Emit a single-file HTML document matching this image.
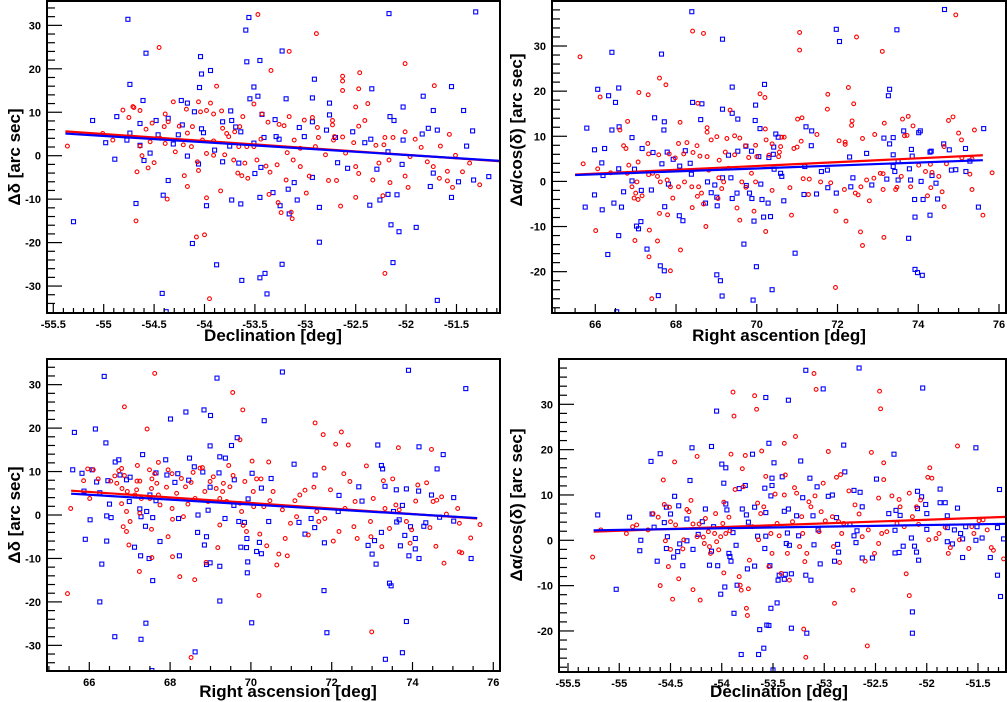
<!DOCTYPE html>
<html><head><meta charset="utf-8">
<style>
html,body{margin:0;padding:0;background:#fff;}
svg{display:block;font-family:"Liberation Sans",Arial,sans-serif;}
.tl{font-size:11px;font-weight:bold;fill:#000;}
.at{font-size:17px;font-weight:bold;fill:#000;}
</style></head>
<body>
<svg id="chart" width="1007" height="702" viewBox="0 0 1007 702" xmlns="http://www.w3.org/2000/svg"></svg>
<script>
// ---- Data ----
const tlRed=[[-55.36,2.2],[-54.45,24.9],[-53.47,32.5],[-52.89,28.1],[-53.16,24.0],[-53.34,19.6],[-53.88,16.0],[-52.01,21.2],[-52.63,18.3],[-52.63,17.2],[-52.63,15.0],[-52.46,19.1],[-52.47,15.4],[-51.72,16.1],[-52.38,12.0],[-52.50,11.2],[-54.68,-15.0],[-54.08,-18.7],[-54.00,-18.2],[-53.95,-32.9],[-52.21,-27.1],[-52.65,-11.6],[-52.50,-9.6],[-53.14,-13.0],[-53.13,-14.5],[-53.27,-10.8],[-53.24,-13.1],[-53.36,-8.9],[-54.37,-10.0],[-53.98,-9.7],[-53.84,-8.1],[-54.20,-4.6],[-54.17,-7.1],[-54.67,-3.7],[-54.56,-2.8],[-54.50,-1.6],[-54.62,0.0],[-54.06,-3.4],[-54.07,-1.4],[-53.91,0.1],[-53.67,-4.0],[-53.63,-4.6],[-53.57,-5.2],[-53.35,-3.8],[-53.19,-5.6],[-52.99,-8.6],[-52.96,-4.7],[-52.77,-5.7],[-52.69,-5.7],[-52.50,-2.5],[-52.47,-4.1],[-52.33,-5.6],[-52.23,-9.2],[-52.16,-6.2],[-51.98,-7.3],[-52.01,-4.7],[-51.67,-5.2],[-51.59,-5.8],[-51.54,-7.3],[-51.59,-3.6],[-51.44,-3.7],[-51.27,-6.7],[-51.37,-1.7],[-51.51,0.1],[-51.66,2.2],[-51.57,4.9],[-51.85,1.9],[-51.91,3.8],[-52.01,5.5],[-52.13,4.2],[-52.21,4.2],[-52.30,2.4],[-52.22,2.5],[-52.17,-1.0],[-52.27,-1.7],[-52.41,8.1],[-52.47,6.8],[-52.73,8.1],[-52.73,7.1],[-52.71,4.4],[-52.63,4.3],[-52.52,3.0],[-52.60,0.6],[-52.80,0.2],[-52.88,6.5],[-52.93,8.8],[-53.01,8.2],[-52.87,4.2],[-52.90,2.1],[-53.05,1.7],[-53.16,9.0],[-53.21,6.9],[-53.26,7.2],[-53.18,0.7],[-53.11,3.6],[-53.12,-1.0],[-53.05,-2.5],[-53.28,-2.1],[-53.39,-2.4],[-53.48,-1.0],[-53.51,2.1],[-53.44,3.8],[-53.37,7.7],[-53.43,9.6],[-53.51,11.9],[-53.62,9.0],[-53.65,6.7],[-53.70,5.5],[-53.78,5.1],[-53.83,10.3],[-53.91,9.6],[-53.98,10.4],[-54.04,10.1],[-54.06,12.4],[-53.94,12.1],[-54.18,10.7],[-54.31,12.4],[-54.39,9.6],[-54.36,7.8],[-54.25,6.8],[-54.17,5.2],[-54.12,6.7],[-54.02,3.6],[-53.91,3.4],[-53.82,6.3],[-53.76,4.4],[-53.66,2.1],[-53.58,2.1],[-54.21,2.5],[-54.29,0.9],[-54.39,2.8],[-54.40,6.7],[-54.52,7.5],[-54.58,6.1],[-54.64,2.2],[-54.54,3.2],[-54.70,11.1],[-54.81,10.5],[-54.75,8.8],[-54.64,10.4],[-54.71,11.3],[-54.91,3.6],[-55.01,5.1],[-54.44,4.0],[-54.13,2.1],[-53.98,0.5],[-53.80,0.2],[-53.71,-1.0],[-53.60,-1.7],[-52.72,3.6],[-51.96,-0.2],[-51.79,-1.4],[-51.73,-2.5]];
const tlBlue=[[-54.76,31.4],[-54.58,23.6],[-54.04,22.8],[-53.59,28.9],[-53.56,31.8],[-53.58,21.6],[-53.45,21.9],[-53.23,24.1],[-52.17,32.7],[-51.31,33.1],[-54.74,16.4],[-54.03,18.8],[-53.94,19.6],[-54.05,15.7],[-53.51,15.8],[-52.91,17.6],[-52.34,15.4],[-51.55,15.9],[-51.83,13.7],[-55.11,8.1],[-54.87,9.0],[-54.61,12.7],[-54.23,12.7],[-54.17,12.1],[-54.10,10.1],[-53.74,10.3],[-53.55,13.1],[-53.47,13.7],[-53.19,13.1],[-52.93,13.3],[-52.76,12.1],[-52.76,9.4],[-52.03,11.2],[-51.73,10.4],[-51.43,10.4],[-52.16,9.0],[-52.12,8.1],[-51.78,6.3],[-51.69,5.9],[-51.34,5.7],[-51.84,5.0],[-52.53,5.5],[-54.98,3.0],[-54.89,-0.8],[-55.30,-15.2],[-54.68,-11.0],[-54.41,-9.1],[-54.36,-5.7],[-54.12,-20.2],[-53.88,-25.1],[-54.42,-31.7],[-54.38,-35.9],[-53.63,-28.7],[-53.45,-28.1],[-53.40,-27.1],[-53.38,-31.8],[-53.23,-25.0],[-52.86,-19.9],[-52.86,-11.9],[-53.98,-11.5],[-53.64,-11.1],[-53.73,-10.2],[-53.45,-9.6],[-53.25,-11.5],[-53.16,-13.4],[-53.08,-10.2],[-52.36,-11.4],[-52.26,-10.2],[-52.18,-8.9],[-52.09,-9.0],[-52.15,-15.9],[-52.07,-17.5],[-51.90,-16.5],[-52.13,-24.6],[-51.69,-33.3],[-51.55,-9.6],[-51.48,-6.0],[-51.33,-5.6],[-51.18,-4.8],[-51.76,-7.1],[-51.40,2.2],[-54.54,0.6],[-54.60,-1.1],[-54.17,-0.1],[-54.06,-1.9],[-53.82,-1.4],[-53.66,-1.7],[-53.50,-4.1],[-53.44,-2.7],[-53.32,-8.5],[-53.17,-7.7],[-53.11,-6.2],[-52.93,-5.0],[-52.68,-1.6],[-52.58,-2.9],[-52.29,-3.1],[-52.04,-2.0],[-51.73,-4.0],[-54.31,2.7],[-53.90,1.3],[-53.75,2.2],[-53.41,4.2],[-53.29,4.4],[-53.06,6.5],[-52.79,5.9],[-52.70,4.2],[-52.41,3.0],[-52.35,3.8],[-52.18,0.9],[-52.03,3.6],[-54.48,8.1],[-54.64,7.4],[-54.36,8.6],[-54.22,7.1],[-54.03,6.2],[-53.82,7.8],[-53.69,6.6],[-53.43,9.5],[-53.30,8.3],[-53.01,4.4],[-52.93,7.8],[-54.74,5.2],[-54.77,3.6],[-54.64,2.4],[-54.46,4.8],[-54.26,4.8],[-54.01,5.3],[-53.73,8.1],[-53.64,5.5],[-53.51,2.9],[-53.26,3.8]];
const tlRedFit=[[-55.38,5.6],[-51.06,-1.3]];
const tlBlueFit=[[-55.38,5.1],[-51.06,-1.2]];

const trRed=[[65.62,27.6],[65.70,3.9],[66.12,18.7],[67.08,19.7],[67.31,19.2],[67.59,22.9],[67.75,21.4],[68.41,33.3],[68.68,32.8],[71.06,33.0],[71.06,29.1],[72.47,32.0],[73.11,28.8],[74.93,36.9],[68.54,17.3],[69.34,15.8],[70.08,19.4],[70.20,18.6],[71.76,19.3],[71.75,16.0],[72.27,20.8],[72.40,17.2],[71.01,13.8],[71.12,14.1],[72.36,13.4],[72.35,12.4],[73.16,12.9],[73.61,13.8],[73.75,14.4],[73.87,12.3],[74.75,13.5],[74.86,14.3],[75.00,10.7],[75.39,11.4],[73.72,10.2],[73.66,10.1],[72.92,10.4],[72.62,9.5],[72.19,8.7],[72.19,8.2],[72.04,9.0],[71.49,10.4],[71.10,8.9],[71.00,7.6],[70.92,7.3],[70.21,11.6],[68.77,11.9],[68.77,10.9],[68.10,13.1],[66.80,13.3],[66.61,11.4],[66.70,7.9],[66.76,7.3],[67.30,8.4],[68.06,8.4],[68.27,8.6],[68.52,7.9],[68.87,9.2],[69.01,9.9],[69.26,9.5],[69.45,10.1],[69.58,9.6],[69.72,7.9],[69.97,8.0],[70.23,9.2],[70.38,8.3],[70.62,9.8],[70.68,9.8],[70.59,7.7],[70.56,6.5],[70.54,5.5],[70.30,5.8],[70.00,5.5],[69.80,5.3],[69.45,5.9],[69.22,6.5],[69.07,4.7],[68.77,5.5],[68.59,5.6],[68.42,6.4],[68.19,6.1],[67.98,5.2],[67.83,6.1],[67.57,5.9],[67.32,6.1],[67.06,4.3],[66.83,3.6],[66.06,2.8],[66.38,1.9],[66.79,1.8],[67.03,-0.1],[66.91,-1.2],[67.00,-2.6],[66.96,-3.7],[67.06,-4.0],[67.16,-3.2],[67.32,1.5],[67.42,1.8],[67.54,1.1],[67.61,-0.1],[67.78,0.3],[67.86,-1.2],[67.92,-3.7],[68.06,-1.2],[68.21,-0.1],[68.39,-1.2],[68.56,-1.2],[68.63,-2.6],[68.68,-5.0],[68.53,-3.3],[68.81,2.5],[69.06,0.8],[69.18,-0.1],[69.30,2.9],[69.63,-0.1],[69.73,-1.3],[69.87,1.8],[69.97,-0.1],[69.93,-6.6],[69.58,-8.6],[69.51,-5.9],[69.04,-3.8],[69.13,-1.6],[68.40,-5.8],[68.11,-15.2],[67.86,-19.8],[67.79,-7.4],[67.59,-7.1],[67.54,-13.2],[67.34,-10.8],[67.33,-16.7],[67.40,-26.0],[66.98,-13.1],[66.01,-10.9],[68.74,-10.0],[70.22,-11.1],[70.38,-2.0],[70.86,-7.5],[70.82,-1.4],[71.28,-2.9],[71.30,0.5],[71.15,0.6],[71.58,-0.1],[71.83,-0.3],[71.96,-6.6],[71.95,-23.5],[72.21,-8.8],[72.57,-11.2],[72.62,-14.2],[72.17,-1.8],[72.44,-2.6],[72.51,-3.0],[72.58,-1.2],[72.79,-4.3],[72.72,0.3],[72.90,0.7],[73.06,1.8],[73.13,1.7],[73.13,-1.8],[73.15,-12.4],[73.44,-1.8],[73.47,-1.3],[73.58,1.1],[73.81,-1.2],[74.23,-3.2],[74.31,-1.4],[74.59,-2.3],[74.64,-5.6],[74.51,1.1],[74.34,2.0],[74.18,2.2],[74.01,3.6],[74.30,3.8],[74.70,3.9],[74.64,7.7],[75.07,9.2],[75.28,1.6],[75.33,-1.8],[75.60,-7.5],[75.83,1.9],[75.33,5.0],[75.08,5.2]];
const trBlue=[[68.39,37.6],[66.41,28.6],[67.64,28.2],[69.15,31.5],[71.97,33.7],[72.05,31.0],[73.47,33.6],[74.65,38.1],[66.06,20.4],[66.58,20.7],[66.33,19.0],[66.50,17.5],[70.19,21.5],[69.39,20.9],[73.29,20.4],[73.26,19.0],[65.79,11.8],[66.41,11.4],[66.59,12.1],[66.91,9.7],[67.47,14.1],[67.71,13.2],[67.70,11.4],[68.41,17.5],[68.64,17.2],[68.61,13.7],[69.15,16.0],[69.39,15.1],[69.53,13.8],[69.97,16.9],[69.96,13.5],[70.08,11.7],[71.22,12.1],[71.36,11.2],[70.47,10.5],[70.53,9.8],[73.64,11.2],[74.05,11.2],[74.01,10.8],[73.38,9.7],[73.29,8.3],[75.62,11.7],[65.98,7.0],[66.23,7.3],[66.16,4.1],[66.19,1.3],[65.98,-3.0],[65.75,-5.7],[66.17,-6.3],[66.46,-4.8],[66.65,-5.7],[66.70,-2.3],[66.58,2.8],[66.91,0.1],[66.97,2.7],[67.16,7.3],[67.43,6.4],[67.65,3.9],[67.78,6.5],[67.93,4.9],[68.09,3.4],[68.23,6.8],[68.35,4.0],[68.38,1.6],[67.14,-2.0],[67.39,-1.9],[67.72,-5.6],[67.81,-0.6],[68.08,-7.6],[68.17,-8.7],[67.13,-8.9],[67.07,-10.5],[67.02,-9.9],[66.58,-12.0],[66.31,-16.2],[67.28,-15.0],[67.61,-18.7],[67.71,-19.8],[67.56,-25.3],[66.53,-28.9],[69.01,-20.7],[69.10,-22.0],[69.14,-25.4],[69.91,-26.3],[69.99,-18.9],[70.38,-24.0],[69.68,-13.9],[70.95,-15.9],[73.76,-12.6],[73.92,-19.5],[73.98,-20.2],[74.10,-20.8],[73.92,-7.9],[74.29,-7.5],[74.12,-4.0],[73.91,-4.0],[74.48,-3.9],[75.49,-5.7],[74.44,-0.4],[74.34,1.3],[74.07,0.0],[73.81,0.3],[73.50,0.3],[73.22,0.5],[72.85,-0.8],[72.33,-1.2],[71.97,-2.6],[71.76,-1.4],[71.48,-2.8],[71.17,-2.9],[70.67,-4.3],[70.34,-7.8],[70.17,-7.9],[70.28,-4.8],[70.13,-4.0],[69.93,-8.8],[69.88,-3.8],[69.82,-2.6],[70.10,-0.6],[69.74,-0.9],[69.51,-2.6],[69.39,-3.8],[69.02,-5.4],[69.01,-3.5],[68.96,-0.8],[68.87,-2.5],[68.78,-0.1],[68.73,-4.8],[69.15,0.8],[69.36,0.8],[69.30,5.8],[69.53,6.7],[69.73,7.8],[69.87,6.7],[70.05,5.5],[70.30,5.3],[70.41,6.0],[70.42,7.6],[70.59,1.8],[70.62,1.1],[70.43,2.7],[71.35,7.9],[71.19,3.3],[71.60,2.2],[71.75,2.5],[72.30,5.4],[72.38,0.8],[72.72,6.2],[73.15,9.6],[73.38,5.9],[73.38,3.3],[73.42,2.2],[73.50,4.4],[73.83,7.1],[73.85,5.6],[73.78,2.8],[74.29,6.5],[74.32,6.7],[74.63,8.3],[74.77,7.0],[74.82,2.5],[74.93,2.6],[75.17,7.3],[75.18,2.2],[75.28,4.5]];
const trRedFit=[[65.5,1.5],[75.6,5.8]];
const trBlueFit=[[65.5,1.4],[75.6,4.7]];

const blRed=[[65.46,-18.1],[65.54,1.5],[65.86,7.9],[65.96,10.6],[66.10,10.4],[66.01,3.8],[66.22,8.3],[66.53,7.8],[66.63,9.0],[66.68,7.3],[66.73,10.2],[66.80,10.7],[66.87,24.9],[66.87,9.1],[66.81,6.1],[66.94,5.4],[66.80,2.6],[66.92,0.8],[66.84,-2.7],[66.92,-3.8],[66.98,-6.9],[67.01,-1.5],[67.19,11.4],[67.18,7.8],[67.25,7.8],[67.17,5.8],[67.13,4.6],[67.29,3.8],[67.25,0.4],[67.24,-13.0],[67.43,19.8],[67.49,10.4],[67.62,32.6],[67.62,9.5],[67.55,8.3],[67.67,7.3],[67.54,6.1],[67.71,4.6],[67.71,12.1],[67.50,3.8],[67.54,-3.3],[67.55,-9.8],[67.75,2.3],[67.95,-5.0],[67.95,10.4],[67.91,6.4],[68.05,9.5],[68.05,1.5],[68.06,-1.0],[68.06,-9.6],[68.16,5.0],[68.24,-14.2],[68.28,8.4],[68.33,-0.4],[68.38,6.5],[68.44,2.5],[68.52,7.5],[68.57,9.8],[68.61,-14.9],[68.62,3.8],[68.74,10.8],[68.80,10.9],[68.86,5.4],[68.89,-10.9],[68.94,3.1],[68.99,7.7],[69.07,8.8],[69.14,6.1],[69.18,-7.5],[69.23,-2.3],[69.23,3.8],[69.30,5.4],[69.32,7.3],[69.40,3.1],[69.45,11.4],[69.48,6.5],[69.55,28.2],[69.56,9.1],[69.73,17.3],[69.73,2.7],[69.80,24.2],[69.77,0.8],[69.81,-2.4],[69.85,7.7],[69.89,-3.8],[70.03,12.4],[70.06,5.4],[70.07,1.9],[70.14,8.3],[70.22,-4.4],[70.20,-18.5],[70.25,8.3],[70.32,1.9],[70.39,-7.1],[70.44,12.2],[70.47,3.3],[70.55,5.4],[70.64,-11.5],[70.69,-9.0],[70.78,1.2],[70.85,-5.4],[70.90,-9.4],[70.98,-1.9],[71.09,3.3],[71.13,-0.4],[71.21,4.6],[71.34,5.7],[71.42,-4.6],[71.56,6.4],[71.59,21.2],[71.63,0.8],[71.68,-1.5],[71.79,18.5],[71.81,10.8],[71.83,-0.8],[71.97,5.8],[72.04,-6.0],[72.10,16.3],[72.18,-3.8],[72.24,19.1],[72.30,9.5],[72.33,1.5],[72.41,16.1],[72.45,7.7],[72.55,-2.7],[72.58,3.1],[72.63,-5.4],[72.86,11.3],[72.96,-1.5],[72.97,-5.0],[72.99,-26.9],[73.03,3.8],[73.24,-7.3],[73.28,7.9],[73.32,1.5],[73.43,-3.1],[73.51,8.3],[73.59,2.3],[73.65,15.5],[73.67,1.2],[73.85,-1.5],[73.94,-6.5],[73.98,-3.4],[74.08,3.2],[74.13,6.9],[74.35,7.4],[74.43,-2.9],[74.47,15.1],[74.51,3.1],[74.58,-7.2],[74.60,3.4],[74.72,4.2],[74.78,-11.1],[74.84,0.2],[75.12,1.5],[75.16,-1.9],[75.16,-8.5],[75.22,-8.7],[75.44,-5.3],[75.67,-2.2],[68.52,-32.8]];
const blBlue=[[66.37,31.9],[69.16,31.5],[70.78,32.9],[73.90,33.3],[75.32,29.1],[65.63,19.0],[66.15,19.8],[66.41,16.6],[68.01,22.1],[68.39,23.7],[68.84,24.2],[69.00,22.9],[70.33,21.7],[69.66,17.8],[68.99,15.9],[69.52,16.0],[73.14,16.1],[74.16,15.7],[74.76,13.9],[67.32,13.9],[67.89,12.7],[68.48,13.1],[69.23,13.4],[69.37,13.1],[71.07,11.7],[73.23,11.4],[73.26,10.6],[74.61,10.6],[65.59,10.4],[65.82,9.6],[66.07,10.4],[66.64,12.2],[66.73,12.7],[66.18,7.6],[66.46,7.9],[66.76,9.2],[66.92,8.1],[67.01,8.7],[67.65,9.7],[67.92,9.2],[68.19,9.5],[68.12,7.5],[68.46,8.0],[68.60,11.1],[68.81,9.9],[68.99,6.4],[69.21,9.7],[69.59,8.1],[70.03,9.6],[70.26,6.2],[70.50,8.4],[71.59,9.2],[72.67,6.5],[73.32,6.6],[73.60,5.8],[73.85,6.0],[74.15,5.5],[74.47,4.6],[75.02,4.0],[65.87,5.5],[66.26,5.1],[66.50,2.5],[66.99,3.1],[67.50,4.6],[67.65,3.3],[67.42,0.8],[67.25,1.4],[67.57,-0.6],[67.39,-2.6],[67.28,-0.4],[66.43,-0.2],[66.54,-0.6],[66.02,-1.1],[67.12,-7.4],[67.27,-9.4],[67.48,-10.0],[67.75,-6.1],[66.31,-11.3],[65.90,-5.6],[66.43,-6.0],[67.57,-15.1],[66.26,-20.0],[67.40,-24.9],[66.63,-28.0],[67.28,-28.6],[67.55,-35.8],[68.62,-31.5],[68.23,-9.4],[68.68,-4.0],[68.90,-5.0],[68.85,-6.9],[68.90,-11.4],[68.99,-11.0],[69.23,-11.8],[69.23,-19.8],[70.02,-24.8],[69.75,-7.4],[69.89,-7.5],[69.90,-5.4],[69.92,-10.8],[69.91,-13.3],[70.14,-8.4],[70.26,-8.9],[70.21,-6.3],[69.84,-1.7],[69.70,-1.5],[69.36,-0.8],[68.94,1.1],[68.21,-0.8],[68.69,0.0],[69.58,2.2],[69.93,3.7],[70.44,-1.5],[71.19,-1.7],[71.49,-0.8],[71.58,-2.9],[71.34,-4.4],[71.82,-6.4],[71.81,-17.4],[71.88,-27.1],[72.16,0.8],[72.18,4.5],[72.75,3.2],[73.23,-4.0],[73.06,-5.9],[72.90,-7.0],[73.00,-9.0],[73.10,-11.3],[73.43,-15.7],[73.47,-16.3],[73.85,-24.5],[73.75,-31.7],[73.33,-33.2],[73.53,0.8],[73.67,-1.1],[73.61,-1.6],[73.70,-7.1],[73.81,-4.7],[73.95,-2.7],[74.07,-5.4],[74.07,-7.8],[73.91,-9.4],[74.16,-10.0],[74.28,-2.6],[74.33,-1.8],[74.67,-0.5],[75.02,-1.4],[75.45,-10.0],[73.75,2.2]];
const blRedFit=[[65.55,5.6],[75.6,-0.8]];
const blBlueFit=[[65.55,4.9],[75.6,-0.7]];

const brRed=[[-55.26,-3.7],[-55.18,2.3],[-54.93,1.5],[-54.87,3.0],[-54.83,3.4],[-54.72,2.3],[-54.67,5.9],[-54.62,5.1],[-54.60,-10.0],[-54.57,13.3],[-54.56,7.9],[-54.55,-0.1],[-54.52,-5.8],[-54.51,7.3],[-54.50,4.1],[-54.50,-2.0],[-54.48,-13.0],[-54.46,17.3],[-54.45,3.4],[-54.42,-8.5],[-54.38,-1.9],[-54.37,0.1],[-54.34,6.8],[-54.32,6.3],[-54.30,8.8],[-54.28,-10.9],[-54.28,3.6],[-54.24,18.5],[-54.24,0.8],[-54.22,3.6],[-54.21,-13.2],[-54.18,0.7],[-54.17,-0.7],[-54.16,4.8],[-54.13,1.9],[-54.12,-1.4],[-54.11,-2.9],[-54.07,1.5],[-54.06,5.9],[-54.05,-0.3],[-54.03,-2.1],[-54.01,0.8],[-53.99,3.7],[-53.98,8.4],[-53.98,-7.2],[-53.96,1.5],[-53.93,5.1],[-53.92,2.1],[-53.91,19.0],[-53.89,32.7],[-53.88,27.4],[-53.87,11.2],[-53.83,-8.0],[-53.82,-9.9],[-53.81,-11.0],[-53.80,15.8],[-53.79,11.8],[-53.77,18.7],[-53.76,-15.0],[-53.75,-16.6],[-53.74,-10.7],[-53.73,-4.4],[-53.70,3.0],[-53.68,31.9],[-53.66,28.9],[-53.65,8.2],[-53.64,0.1],[-53.62,5.9],[-53.61,19.7],[-53.59,7.4],[-53.57,14.1],[-53.54,-5.8],[-53.52,1.5],[-53.51,-2.9],[-53.48,10.2],[-53.46,3.7],[-53.44,1.0],[-53.42,-7.3],[-53.39,21.4],[-53.39,10.0],[-53.38,14.4],[-53.36,-2.9],[-53.34,-8.8],[-53.31,4.1],[-53.29,11.6],[-53.28,22.9],[-53.27,10.4],[-53.24,-1.4],[-53.22,5.2],[-53.21,1.5],[-53.20,-19.6],[-53.19,-4.7],[-53.18,-25.8],[-53.17,-2.9],[-53.15,8.5],[-53.13,7.4],[-53.10,36.8],[-53.09,9.8],[-53.08,33.3],[-53.05,1.9],[-53.03,6.3],[-53.01,12.6],[-52.99,4.3],[-52.96,19.6],[-52.92,5.2],[-52.91,-1.4],[-52.90,-13.9],[-52.88,13.9],[-52.86,4.1],[-52.85,-4.9],[-52.84,14.5],[-52.83,1.5],[-52.81,3.7],[-52.76,10.9],[-52.72,-11.0],[-52.70,7.8],[-52.66,5.8],[-52.63,0.8],[-52.60,-4.6],[-52.58,-23.3],[-52.57,2.3],[-52.54,19.4],[-52.51,-2.9],[-52.47,9.3],[-52.47,-0.7],[-52.46,32.9],[-52.45,29.0],[-52.44,1.5],[-52.42,13.4],[-52.42,17.1],[-52.39,1.9],[-52.34,9.8],[-52.29,3.7],[-52.27,9.0],[-52.26,7.4],[-52.22,3.0],[-52.20,-7.4],[-52.17,-12.2],[-52.17,10.4],[-52.14,5.2],[-52.10,7.4],[-52.08,3.5],[-52.06,8.9],[-51.99,13.9],[-51.98,0.1],[-51.97,16.0],[-51.95,13.7],[-51.91,0.4],[-51.88,1.5],[-51.82,2.9],[-51.79,-2.9],[-51.77,-1.6],[-51.70,20.8],[-51.68,0.1],[-51.59,-1.8],[-51.56,3.0],[-51.54,1.5],[-51.49,4.3],[-51.45,4.5],[-51.41,2.3],[-51.37,-1.6],[-51.35,-2.2],[-51.25,-4.1]];
const brBlue=[[-55.21,5.6],[-55.03,-10.8],[-54.90,5.1],[-54.80,-2.3],[-54.79,0.0],[-54.69,17.4],[-54.68,5.8],[-54.66,2.9],[-54.63,-4.6],[-54.60,19.1],[-54.56,3.9],[-54.54,7.3],[-54.54,-1.8],[-54.53,0.8],[-54.50,5.8],[-54.47,-3.7],[-54.46,9.7],[-54.43,-2.5],[-54.42,7.6],[-54.41,-0.8],[-54.38,-5.6],[-54.34,4.7],[-54.34,-0.1],[-54.31,13.2],[-54.29,20.4],[-54.28,-2.0],[-54.23,1.3],[-54.19,4.1],[-54.16,6.9],[-54.12,-5.5],[-54.10,20.7],[-54.10,-2.4],[-54.08,3.0],[-54.05,28.5],[-54.04,-5.6],[-54.01,-11.9],[-54.00,16.8],[-53.98,12.6],[-53.97,-10.3],[-53.96,8.0],[-53.96,16.0],[-53.95,6.7],[-53.93,-2.9],[-53.92,-3.6],[-53.91,-4.6],[-53.89,1.7],[-53.88,-16.1],[-53.86,-1.1],[-53.85,-9.9],[-53.83,11.4],[-53.81,-25.2],[-53.80,6.9],[-53.77,12.1],[-53.76,5.6],[-53.75,-6.3],[-53.74,4.0],[-53.70,19.0],[-53.68,7.3],[-53.68,-5.7],[-53.65,0.9],[-53.64,-25.2],[-53.63,-19.7],[-53.59,-23.8],[-53.58,-1.8],[-53.58,11.5],[-53.57,6.1],[-53.57,31.5],[-53.57,0.9],[-53.56,-18.7],[-53.54,21.4],[-53.54,-18.8],[-53.53,-5.6],[-53.52,-15.0],[-53.52,9.8],[-53.51,12.1],[-53.51,13.7],[-53.50,-28.6],[-53.49,17.1],[-53.46,-13.8],[-53.45,-8.8],[-53.44,-7.7],[-53.41,14.0],[-53.39,6.4],[-53.39,-8.6],[-53.38,-7.5],[-53.37,-0.7],[-53.36,1.6],[-53.35,6.9],[-53.35,30.9],[-53.34,-1.1],[-53.32,-7.4],[-53.32,-19.4],[-53.27,5.4],[-53.25,1.0],[-53.23,17.5],[-53.21,9.4],[-53.18,-7.7],[-53.18,37.5],[-53.17,-20.5],[-53.14,13.7],[-53.13,-8.8],[-53.11,5.4],[-53.10,-1.0],[-53.07,11.8],[-53.06,2.3],[-53.04,-5.2],[-53.01,33.4],[-52.96,9.7],[-52.92,10.0],[-52.90,-4.6],[-52.88,5.0],[-52.87,-0.9],[-52.86,-2.6],[-52.81,21.0],[-52.80,15.1],[-52.75,3.6],[-52.71,1.0],[-52.71,11.0],[-52.69,-0.5],[-52.68,2.1],[-52.66,38.0],[-52.65,10.6],[-52.63,7.4],[-52.63,-3.9],[-52.53,-3.9],[-52.49,13.5],[-52.37,5.9],[-52.32,19.0],[-52.31,2.2],[-52.31,-2.8],[-52.30,6.6],[-52.27,-2.7],[-52.26,5.5],[-52.23,-1.3],[-52.15,0.5],[-52.14,-20.5],[-52.14,-15.8],[-52.12,-1.3],[-52.10,-2.6],[-52.09,10.8],[-52.09,7.0],[-52.08,-4.4],[-52.05,9.6],[-52.04,33.6],[-52.01,7.9],[-52.00,5.9],[-52.00,2.4],[-51.87,11.3],[-51.87,8.3],[-51.82,8.3],[-51.80,5.4],[-51.80,2.8],[-51.80,-0.3],[-51.75,-0.8],[-51.73,2.3],[-51.70,7.1],[-51.67,1.5],[-51.65,-3.8],[-51.65,0.3],[-51.62,3.0],[-51.52,20.4],[-51.52,0.0],[-51.51,3.0],[-51.46,0.5],[-51.38,-3.8],[-51.31,2.8],[-51.31,-7.7],[-51.29,11.2],[-51.28,-12.4],[-51.25,0.3],[-51.16,-20.0]];
const brRedFit=[[-55.25,1.9],[-51.06,5.3]];
const brBlueFit=[[-55.25,2.2],[-51.06,3.7]];

const decTicks=["-55.5","-55","-54.5","-54","-53.5","-53","-52.5","-52","-51.5"];
const raTicks=["66","68","70","72","74","76"];
const dTicks=["-30","-20","-10","0","10","20","30"];
const aTicks=["-20","-10","0","10","20","30"];

// ---- Rendering ----
const NS="http://www.w3.org/2000/svg";
const svg=document.getElementById('chart');
function mk(tag,attrs,parent){const e=document.createElementNS(NS,tag);for(const k in attrs)e.setAttribute(k,attrs[k]);(parent||svg).appendChild(e);return e;}

function panel(p){
  const g=mk('g',{});
  
  
  const sx=v=>p.x0+(v-p.xref)*p.xs;
  const sy=v=>p.y0-v*p.ys;
  const clip='clip-'+p.name;
  const cp=mk('clipPath',{id:clip},g);mk('rect',{x:p.L,y:p.T,width:p.R-p.L,height:p.B-p.T},cp);
  const pts=mk('g',{'clip-path':'url(#'+clip+')'},g);
  
  
  p.blue.forEach(d=>{
    const r=mk('rect',{x:(sx(d[0])-2).toFixed(1),y:(sy(d[1])-2).toFixed(1),width:4,height:4,fill:'none',stroke:'#00f','stroke-width':1.1},pts);
    
    
  });
  p.red.forEach(d=>{
    const c=mk('circle',{cx:sx(d[0]).toFixed(1),cy:sy(d[1]).toFixed(1),r:1.9,fill:'none',stroke:'#f00','stroke-width':1.1},pts);
    
    
  });
  const lr=mk('line',{x1:sx(p.redFit[0][0]),y1:sy(p.redFit[0][1]),x2:sx(p.redFit[1][0]),y2:sy(p.redFit[1][1]),stroke:'#f00','stroke-width':2.2},pts);
  
  
  const lb=mk('line',{x1:sx(p.blueFit[0][0]),y1:sy(p.blueFit[0][1]),x2:sx(p.blueFit[1][0]),y2:sy(p.blueFit[1][1]),stroke:'#00f','stroke-width':2.2},pts);
  
  
  const tk=mk('g',{stroke:'#000','stroke-width':1.2},g);
  
  
  for(let v=Math.ceil(p.xmin/p.xminor)*p.xminor;v<=p.xmax+1e-9;v+=p.xminor){
    const X=sx(v);if(X<p.L+1||X>p.R-1)continue;
    const maj=Math.abs(v/p.xmajor-Math.round(v/p.xmajor))<1e-6;
    mk('line',{x1:X,y1:p.B,x2:X,y2:p.B-(maj?9:5)},tk);
  }
  const ymin=(p.y0-p.B)/p.ys, ymax=(p.y0-p.T)/p.ys;
  for(let v=Math.ceil(ymin/2)*2;v<=ymax;v+=2){
    const Y=sy(v);if(Y<p.T+1||Y>p.B-1)continue;
    const maj=v%10===0;
    mk('line',{x1:p.L,y1:Y,x2:p.L+(maj?15:8),y2:Y},tk);
  }
  const fr=mk('rect',{x:p.L,y:p.T,width:p.R-p.L,height:p.B-p.T,fill:'none',stroke:'#000','stroke-width':2},g);
  
  
  p.xlabels.forEach(s=>{
    const t=mk('text',{x:sx(parseFloat(s)),y:p.B+15,'text-anchor':'middle',class:'tl'},g);t.textContent=s;
    
    
  });
  p.ylabels.forEach(s=>{
    const Y=sy(parseFloat(s));if(Y<p.T+3||Y>p.B-3)return;
    const t=mk('text',{x:p.L-6,y:Y+4,'text-anchor':'end',class:'tl'},g);t.textContent=s;
    
    
  });
  const xt=mk('text',{x:p.xtx,y:p.B+p.xty,'text-anchor':'middle',class:'at'},g);xt.textContent=p.xtitle;
  
  
  const yt=mk('text',{x:0,y:0,'text-anchor':'middle',class:'at',transform:'translate('+p.ytx+','+p.yty+') rotate(-90)'},g);yt.textContent=p.ytitle;
  
  
}

panel({name:'panel-dec-vs-declination',L:47,R:500,T:1,B:313,x0:53.3,xref:-55.5,xs:100.8,y0:155.7,ys:4.345,xmin:-55.6,xmax:-51,xminor:0.1,xmajor:0.5,
  red:tlRed,blue:tlBlue,redFit:tlRedFit,blueFit:tlBlueFit,xlabels:decTicks,ylabels:dTicks,xtitle:'Declination [deg]',xtx:273,xty:28,ytitle:'\u0394\u03b4 [arc sec]',ytx:20,yty:157});
panel({name:'panel-ra-vs-right-ascension',L:552,R:1006,T:1,B:313,x0:595.3,xref:66,xs:40.37,y0:181.4,ys:4.513,xmin:64.9,xmax:76.2,xminor:0.5,xmajor:2,
  red:trRed,blue:trBlue,redFit:trRedFit,blueFit:trBlueFit,xlabels:raTicks,ylabels:aTicks,xtitle:'Right ascention  [deg]',xtx:779,xty:28,ytitle:'\u0394\u03b1/cos(\u03b4) [arc sec]',ytx:522,yty:130});
panel({name:'panel-dec-vs-right-ascension',L:47,R:500,T:359,B:671,x0:89.3,xref:66,xs:40.4,y0:515,ys:4.345,xmin:64.9,xmax:76.2,xminor:0.5,xmajor:2,
  red:blRed,blue:blBlue,redFit:blRedFit,blueFit:blBlueFit,xlabels:raTicks,ylabels:dTicks,xtitle:'Right ascension [deg]',xtx:288,xty:26,ytitle:'\u0394\u03b4 [arc sec]',ytx:20,yty:515});
panel({name:'panel-ra-vs-declination',L:559,R:1006,T:359,B:672,x0:568,xref:-55.5,xs:102.5,y0:540.3,ys:4.533,xmin:-55.6,xmax:-51,xminor:0.1,xmajor:0.5,
  red:brRed,blue:brBlue,redFit:brRedFit,blueFit:brBlueFit,xlabels:decTicks,ylabels:aTicks,xtitle:'Declination [deg]',xtx:779,xty:25,ytitle:'\u0394\u03b1/cos(\u03b4) [arc sec]',ytx:522,yty:505});
</script>
</body></html>
